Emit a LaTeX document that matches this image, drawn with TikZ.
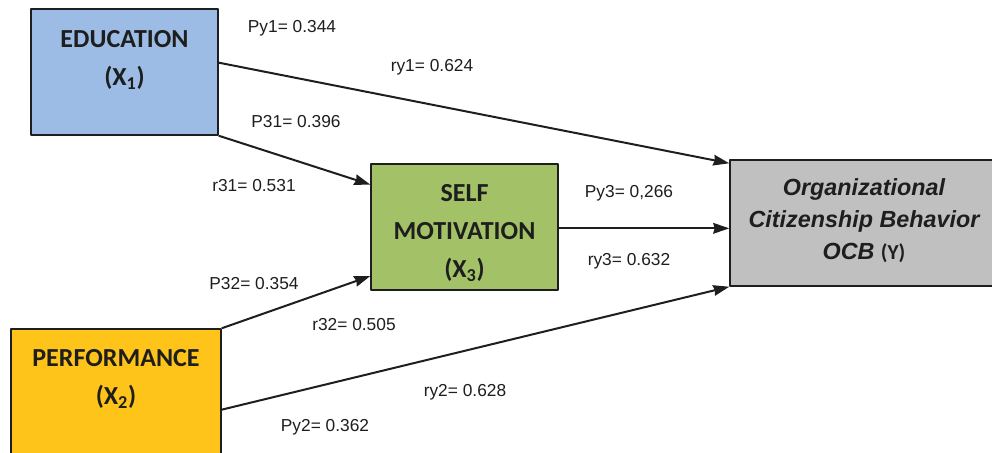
\documentclass[tikz,border=0pt]{standalone}
\usepackage{fontspec}
\setmainfont{Liberation Sans}
\newfontfamily\boxfont{Carlito}
\usetikzlibrary{arrows.meta,positioning}
\definecolor{edublue}{HTML}{9CBCE6}
\definecolor{motgreen}{HTML}{A3C167}
\definecolor{ocbgrey}{HTML}{C0C0C0}
\definecolor{perfyellow}{HTML}{FFC41A}
\definecolor{inkgrey}{HTML}{1E1E1E}
\tikzset{
  varbox/.style={draw=inkgrey,line width=1.1pt,minimum width=140.25pt,minimum height=94.5pt,inner sep=0pt},
  boxtext/.style={text=inkgrey,align=center,font=\boxfont\bfseries\fontsize{19.5}{28.5}\selectfont},
  ocbtext/.style={text=inkgrey,align=center,font=\bfseries\itshape\fontsize{17.5}{24}\selectfont},
  coef/.style={text=inkgrey,font=\fontsize{13}{15}\selectfont,inner sep=0pt},
  path/.style={->,line width=1.5pt,draw=inkgrey}
}
\begin{document}
\begin{tikzpicture}[x=0.75pt,y=-0.75pt,line join=round,>={Stealth[length=12pt,width=8pt,inset=1pt]}]
  \useasboundingbox (0,0) rectangle (992,453);
  \begin{scope}
    \clip (0,0) rectangle (992,453);
    % variables
    \node[varbox,fill=edublue] (edu) at (124.5,72) {};
    \node[varbox,fill=motgreen] (mot) at (464.5,227) {};
    \node[varbox,fill=ocbgrey,minimum width=197.25pt] (ocb) at (861.5,223) {};
    \node[varbox,fill=perfyellow,minimum width=157.5pt,minimum height=99pt] (perf) at (116,395) {};
    \node[boxtext,below=13pt of edu.north] (edutxt) {EDUCATION\\(X\textsubscript{1})};
    \node[boxtext,below=12pt of mot.north] (mottxt) {SELF\\MOTIVATION\\(X\textsubscript{3})};
    \node[boxtext,below=12pt of perf.north] (perftxt) {PERFORMANCE\\(X\textsubscript{2})};
    \node[ocbtext] (ocbtxt) at (864,221) {Organizational\\Citizenship Behavior\\OCB {\boxfont\upshape\fontsize{16}{24}\selectfont(Y)}};
  \end{scope}
  % paths
  \draw[path] ([yshift=7pt]edu.east) -- ([yshift=-3pt]ocb.north west);
  \draw[path] (edu.south east) -- ([yshift=-16pt]mot.north west);
  \draw[path] (perf.north east) -- ([yshift=11pt]mot.south west);
  \draw[path] ([yshift=-1pt]mot.east) -- ([yshift=-1pt]mot.east -| ocb.west);
  \draw[path] ([yshift=-11pt]perf.east) -- (ocb.south west);
  % coefficients
  \node[coef] (py1) at (292,28) {Py1= 0.344};
  \node[coef] (ry1) at (432,67) {ry1= 0.624};
  \node[coef] (p31) at (296,122) {P31= 0.396};
  \node[coef] (r31) at (254,186) {r31= 0.531};
  \node[coef] (py3) at (629,193) {Py3= 0,266};
  \node[coef] (ry3) at (629,261) {ry3= 0.632};
  \node[coef] (p32) at (254,284) {P32= 0.354};
  \node[coef] (r32) at (354,325) {r32= 0.505};
  \node[coef] (ry2) at (465,392) {ry2= 0.628};
  \node[coef] (py2) at (325,427) {Py2= 0.362};
\end{tikzpicture}
\end{document}
